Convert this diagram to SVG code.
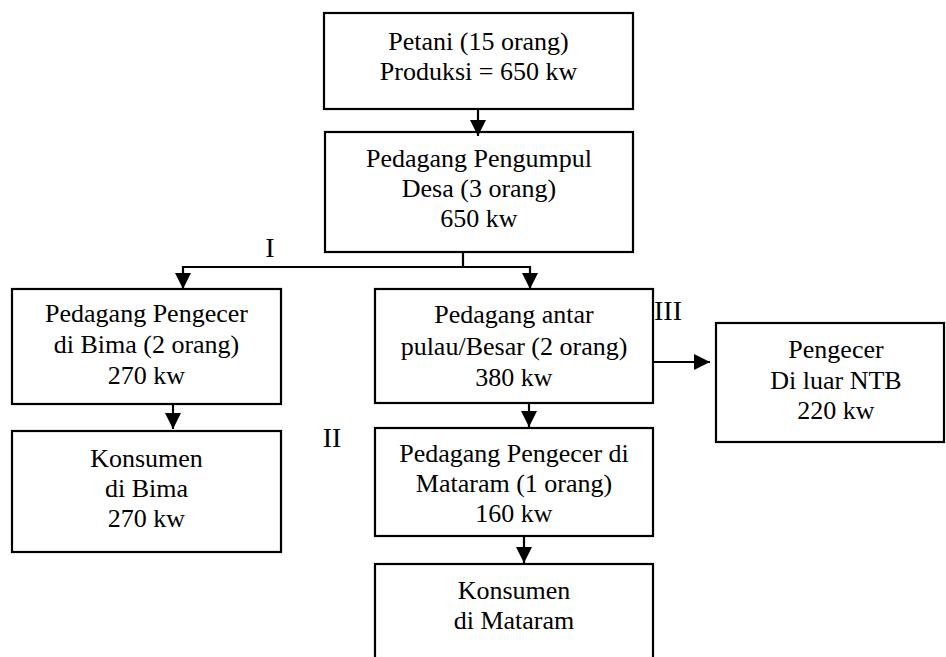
<svg xmlns="http://www.w3.org/2000/svg" width="946" height="657" viewBox="0 0 946 657">
<style>
  .box { fill: #ffffff; stroke: #000000; stroke-width: 2.2; }
  text { font-family: 'Liberation Serif', 'DejaVu Serif', serif; fill: #000000; text-anchor: middle; }
  .t { font-size: 26px; }
  .lbl { font-size: 28px; }
  .c { fill: none; stroke: #000000; stroke-width: 2.2; }
</style>
<defs>
  <marker id="ah" markerUnits="userSpaceOnUse" markerWidth="17" markerHeight="17" refX="16" refY="8" orient="auto">
    <path d="M0,0 L16,8 L0,16 z" fill="#000000"/>
  </marker>
</defs>
<rect x="0" y="0" width="946" height="657" fill="#ffffff"/>

<g id="n1">
  <rect class="box" x="324" y="13" width="309" height="96"/>
  <text class="t" x="478.5" y="50" font-family="Liberation Serif, serif">Petani (15 orang)</text>
  <text class="t" x="478.5" y="80" font-family="Liberation Serif, serif">Produksi = 650 kw</text>
</g>
<g id="n2">
  <rect class="box" x="325" y="132" width="308" height="120"/>
  <text class="t" x="479" y="167" font-family="Liberation Serif, serif">Pedagang Pengumpul</text>
  <text class="t" x="479" y="197" font-family="Liberation Serif, serif">Desa (3 orang)</text>
  <text class="t" x="479" y="227" font-family="Liberation Serif, serif">650 kw</text>
</g>
<g id="n3">
  <rect class="box" x="12" y="289" width="269" height="115"/>
  <text class="t" x="146.5" y="322" font-family="Liberation Serif, serif">Pedagang Pengecer</text>
  <text class="t" x="146.5" y="353" font-family="Liberation Serif, serif">di Bima (2 orang)</text>
  <text class="t" x="146.5" y="384" font-family="Liberation Serif, serif">270 kw</text>
</g>
<g id="n4">
  <rect class="box" x="12" y="431" width="269" height="121"/>
  <text class="t" x="146.5" y="467" font-family="Liberation Serif, serif">Konsumen</text>
  <text class="t" x="146.5" y="497" font-family="Liberation Serif, serif">di Bima</text>
  <text class="t" x="146.5" y="527" font-family="Liberation Serif, serif">270 kw</text>
</g>
<g id="n5">
  <rect class="box" x="375" y="289" width="278" height="114"/>
  <text class="t" x="514" y="323" font-family="Liberation Serif, serif">Pedagang antar</text>
  <text class="t" x="514" y="355" font-family="Liberation Serif, serif">pulau/Besar (2 orang)</text>
  <text class="t" x="514" y="386" font-family="Liberation Serif, serif">380 kw</text>
</g>
<g id="n6">
  <rect class="box" x="716" y="323" width="228" height="119"/>
  <text class="t" x="836" y="358" font-family="Liberation Serif, serif">Pengecer</text>
  <text class="t" x="836" y="389" font-family="Liberation Serif, serif">Di luar NTB</text>
  <text class="t" x="836" y="419" font-family="Liberation Serif, serif">220 kw</text>
</g>
<g id="n7">
  <rect class="box" x="375" y="428" width="278" height="108"/>
  <text class="t" x="514" y="462" font-family="Liberation Serif, serif">Pedagang Pengecer di</text>
  <text class="t" x="514" y="492" font-family="Liberation Serif, serif">Mataram (1 orang)</text>
  <text class="t" x="514" y="522" font-family="Liberation Serif, serif">160 kw</text>
</g>
<g id="n8">
  <rect class="box" x="375" y="564" width="278" height="110"/>
  <text class="t" x="514" y="599" font-family="Liberation Serif, serif">Konsumen</text>
  <text class="t" x="514" y="629" font-family="Liberation Serif, serif">di Mataram</text>
</g>

<g id="connectors">
  <line class="c" x1="478" y1="109" x2="478" y2="136" marker-end="url(#ah)"/>
  <polyline class="c" points="463,252 463,267"/>
  <polyline class="c" points="182,267 531,267"/>
  <line class="c" x1="183" y1="266" x2="183" y2="289" marker-end="url(#ah)"/>
  <line class="c" x1="530" y1="266" x2="530" y2="289" marker-end="url(#ah)"/>
  <line class="c" x1="173" y1="404" x2="173" y2="429" marker-end="url(#ah)"/>
  <line class="c" x1="529" y1="403" x2="529" y2="427" marker-end="url(#ah)"/>
  <line class="c" x1="524" y1="536" x2="524" y2="563" marker-end="url(#ah)"/>
  <line class="c" x1="653" y1="362" x2="710" y2="362" marker-end="url(#ah)"/>
</g>

<g id="labels">
  <text class="lbl" x="270" y="257" font-family="Liberation Serif, serif">I</text>
  <text class="lbl" x="332" y="447" font-family="Liberation Serif, serif">II</text>
  <text class="lbl" x="668" y="320" font-family="Liberation Serif, serif">III</text>
</g>
</svg>
